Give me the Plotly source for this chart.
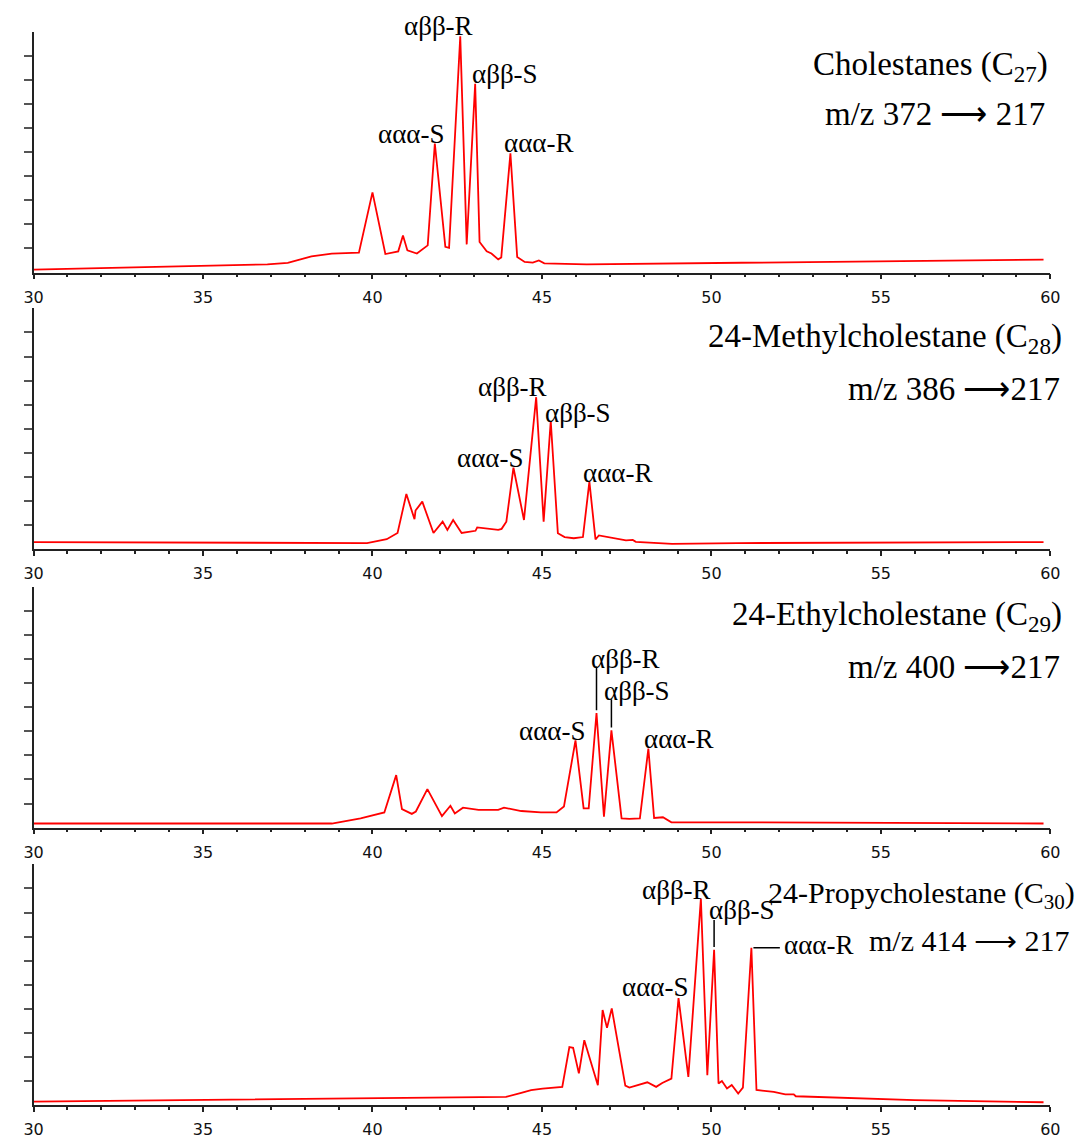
import plotly.graph_objects as go

# ---------------- data (retention time, min ; relative intensity) ----------------
t1 = [30.0, 36.9, 37.5, 38.2, 38.8, 39.6, 40.0, 40.38, 40.76, 40.9, 41.03, 41.31, 41.63, 41.84,
      42.15, 42.26, 42.59, 42.78, 43.03, 43.16, 43.37, 43.51, 43.71, 43.80, 44.07, 44.27, 44.49,
      44.73, 44.91, 45.07, 46.32, 50.78, 59.8]
i1 = [0.12, 0.34, 0.40, 0.67, 0.79, 0.83, 3.33, 0.77, 0.88, 1.54, 0.92, 0.79, 1.13, 5.36,
      1.07, 1.03, 9.81, 1.17, 7.84, 1.27, 0.88, 0.79, 0.55, 0.63, 4.95, 0.65, 0.44,
      0.41, 0.50, 0.38, 0.34, 0.41, 0.54]

t2 = [30.0, 39.84, 40.42, 40.74, 41.0, 41.24, 41.27, 41.47, 41.80, 42.07, 42.21, 42.38, 42.63,
      43.04, 43.09, 43.71, 43.81, 43.95, 44.16, 44.47, 44.83, 45.05, 45.26, 45.47, 45.67, 45.94,
      46.21, 46.40, 46.58, 46.68, 47.48, 47.68, 47.77, 48.84, 50.77, 59.8]
i2 = [0.29, 0.25, 0.41, 0.67, 2.29, 1.24, 1.60, 1.97, 0.67, 1.14, 0.80, 1.21, 0.67,
      0.76, 0.90, 0.80, 0.84, 1.14, 3.38, 1.21, 6.31, 1.14, 5.32, 0.66, 0.50, 0.45,
      0.50, 2.80, 0.40, 0.57, 0.36, 0.38, 0.30, 0.22, 0.25, 0.29]

t3 = [30.0, 38.8, 39.65, 40.35, 40.70, 40.87, 41.16, 41.28, 41.62, 42.05, 42.30, 42.43, 42.67,
      43.13, 43.71, 43.88, 44.39, 44.97, 45.43, 45.65, 45.99, 46.23, 46.38, 46.61, 46.83, 47.05,
      47.35, 47.58, 47.89, 48.14, 48.31, 48.57, 48.82, 50.77, 59.8]
i3 = [0.17, 0.17, 0.38, 0.63, 2.18, 0.77, 0.57, 0.67, 1.60, 0.48, 0.91, 0.59, 0.83,
      0.74, 0.74, 0.83, 0.69, 0.63, 0.63, 0.88, 3.62, 0.80, 0.80, 4.76, 0.45, 4.04,
      0.38, 0.36, 0.38, 3.28, 0.40, 0.43, 0.22, 0.22, 0.17]

t4 = [30.0, 43.94, 44.39, 44.68, 45.02, 45.60, 45.81, 45.92, 46.09, 46.25, 46.65, 46.79, 46.92,
      47.06, 47.46, 47.58, 48.11, 48.37, 48.55, 48.82, 49.03, 49.32, 49.69, 49.88, 50.08, 50.21,
      50.31, 50.46, 50.60, 50.79, 50.93, 51.18, 51.33, 51.84, 52.18, 52.43, 52.49, 56.0, 59.8]
i4 = [0.15, 0.34, 0.51, 0.62, 0.69, 0.76, 2.41, 2.38, 1.32, 2.70, 0.83, 3.95, 3.21,
      4.02, 0.81, 0.73, 0.95, 0.76, 0.92, 1.10, 4.45, 1.17, 8.58, 1.24, 6.45, 0.90,
      1.00, 0.69, 0.84, 0.48, 0.73, 6.54, 0.63, 0.55, 0.45, 0.45, 0.37, 0.21, 0.12]

titles = ["Cholestanes (C<sub>27</sub>)", "24-Methylcholestane (C<sub>28</sub>)",
          "24-Ethylcholestane (C<sub>29</sub>)", "24-Propycholestane (C<sub>30</sub>)"]
transitions = ["m/z 372 ⟶ 217", "m/z 386 ⟶217", "m/z 400 ⟶217", "m/z 414 ⟶ 217"]
peak_names = ["ααα-S", "αββ-R", "αββ-S", "ααα-R"]
x_ticks = [30, 35, 40, 45, 50, 55, 60]

series = [(t1, i1), (t2, i2), (t3, i3), (t4, i4)]

# ---------------- layout / style ----------------
W, H = 1077, 1139
X_LEFT, X_RIGHT = 24, 1060
X_MIN, X_MAX = 30, 60
Y_MAX = 10
PANEL_BOTTOM = [274, 552, 832, 1111]
PANEL_H = 242
SERIF = "Liberation Serif, Times New Roman, serif"
TITLE_SIZE = [33, 33, 33, 30]
TITLE_SHIFT_PX = 10
PEAK_LABEL_SIZE = 27

# label centres (x, y in data units of each panel)
peak_label_pos = [
    {"ααα-S": (41.14, 5.74), "αββ-R": (41.95, 10.25), "αββ-S": (43.90, 8.26), "ααα-R": (44.91, 5.37)},
    {"ααα-S": (43.46, 3.80), "αββ-R": (44.13, 6.74), "αββ-S": (46.07, 5.66), "ααα-R": (47.23, 3.18)},
    {"ααα-S": (45.29, 4.01), "αββ-R": (47.46, 7.02), "αββ-S": (47.81, 5.66), "ααα-R": (49.03, 3.68)},
    {"ααα-S": (48.33, 4.92), "αββ-R": (48.97, 8.93), "αββ-S": (50.89, 8.10), "ααα-R": (53.15, 6.65)},
]
title_pos = [(59.71, 8.55, 59.62, 6.57), (60.11, 8.76, 60.05, 6.65),
             (60.11, 8.76, 60.05, 6.69), (60.49, 8.72, 60.34, 6.82)]


def to_paper(k, t, v, dx=0.0):
    """Map data coords of panel k to paper coords (so labels may sit outside axis range)."""
    px = X_LEFT + (t - X_MIN) / (X_MAX - X_MIN) * (X_RIGHT - X_LEFT) + dx
    py = PANEL_BOTTOM[k] - v / Y_MAX * PANEL_H
    return px / W, 1 - py / H


fig = go.Figure()
annotations = []
shapes = []

for k, (tt, ii) in enumerate(series):
    xa = "x" if k == 0 else f"x{k+1}"
    ya = "y" if k == 0 else f"y{k+1}"
    fig.add_trace(go.Scatter(x=tt, y=ii, mode="lines", xaxis=xa, yaxis=ya,
                             line=dict(color="#ff0000", width=1.8), showlegend=False,
                             hoverinfo="x+y"))
    b = PANEL_BOTTOM[k]
    dom_y = [1 - b / H, 1 - (b - PANEL_H) / H]
    xkey = "xaxis" if k == 0 else f"xaxis{k+1}"
    ykey = "yaxis" if k == 0 else f"yaxis{k+1}"
    fig.layout[xkey] = dict(
        domain=[X_LEFT / W, X_RIGHT / W], range=[X_MIN, X_MAX], anchor=ya,
        showline=True, linecolor="#222", linewidth=1.5, showgrid=False, zeroline=False,
        tickmode="array", tickvals=x_ticks, ticks="outside", ticklen=5, tickwidth=1.5,
        tickcolor="#222", ticklabelstandoff=4,
        tickfont=dict(family="DejaVu Sans, Verdana, sans-serif", size=16, color="#111"),
        minor=dict(dtick=1, ticks="outside", ticklen=3, tickwidth=1.5, tickcolor="#222"),
        fixedrange=True,
    )
    fig.layout[ykey] = dict(
        domain=dom_y, range=[0, Y_MAX], anchor=xa,
        showline=True, linecolor="#222", linewidth=1.5, showgrid=False, zeroline=False,
        tickmode="array", tickvals=list(range(1, 10)), ticks="outside", ticklen=8,
        tickwidth=1.5, tickcolor="#555", showticklabels=False, fixedrange=True,
    )

    # panel titles
    tx, ty, mx, my = title_pos[k]
    ax_, ay_ = to_paper(k, tx, ty, TITLE_SHIFT_PX)
    annotations.append(dict(x=ax_, y=ay_, xref="paper", yref="paper", text=titles[k],
                            showarrow=False, xanchor="right", yanchor="middle",
                            font=dict(family=SERIF, size=TITLE_SIZE[k], color="black")))
    ax_, ay_ = to_paper(k, mx, my, TITLE_SHIFT_PX)
    annotations.append(dict(x=ax_, y=ay_, xref="paper", yref="paper", text=transitions[k],
                            showarrow=False, xanchor="right", yanchor="middle",
                            font=dict(family=SERIF, size=TITLE_SIZE[k], color="black")))
    for name in peak_names:
        ax_, ay_ = to_paper(k, *peak_label_pos[k][name])
        annotations.append(dict(x=ax_, y=ay_, xref="paper", yref="paper", text=name,
                                showarrow=False, xanchor="center", yanchor="middle",
                                font=dict(family=SERIF, size=PEAK_LABEL_SIZE, color="black")))


def nearest_peak(tt, ii, t0):
    j = min(range(len(tt)), key=lambda m: abs(tt[m] - t0))
    return tt[j], ii[j]


# leader lines (panel 3: αββ-R, αββ-S ; panel 4: αββ-S vertical, ααα-R horizontal)
for (k, t0, y_top) in [(2, 46.61, 6.69), (2, 47.05, 5.33), (3, 50.08, 7.69)]:
    tt, ii = series[k]
    pt, pv = nearest_peak(tt, ii, t0)
    shapes.append(dict(type="line", xref=f"x{k+1}", yref=f"y{k+1}", x0=pt, x1=pt,
                       y0=pv + 0.12, y1=y_top, line=dict(color="black", width=1.5)))
pt, pv = nearest_peak(t4, i4, 51.18)
shapes.append(dict(type="line", xref="x4", yref="y4", x0=pt + 0.06, x1=52.02, y0=pv, y1=pv,
                   line=dict(color="black", width=1.5)))

fig.update_layout(width=W, height=H, margin=dict(l=0, r=0, t=0, b=0),
                  paper_bgcolor="white", plot_bgcolor="white",
                  annotations=annotations, shapes=shapes, showlegend=False)

fig.write_html("out.html")
